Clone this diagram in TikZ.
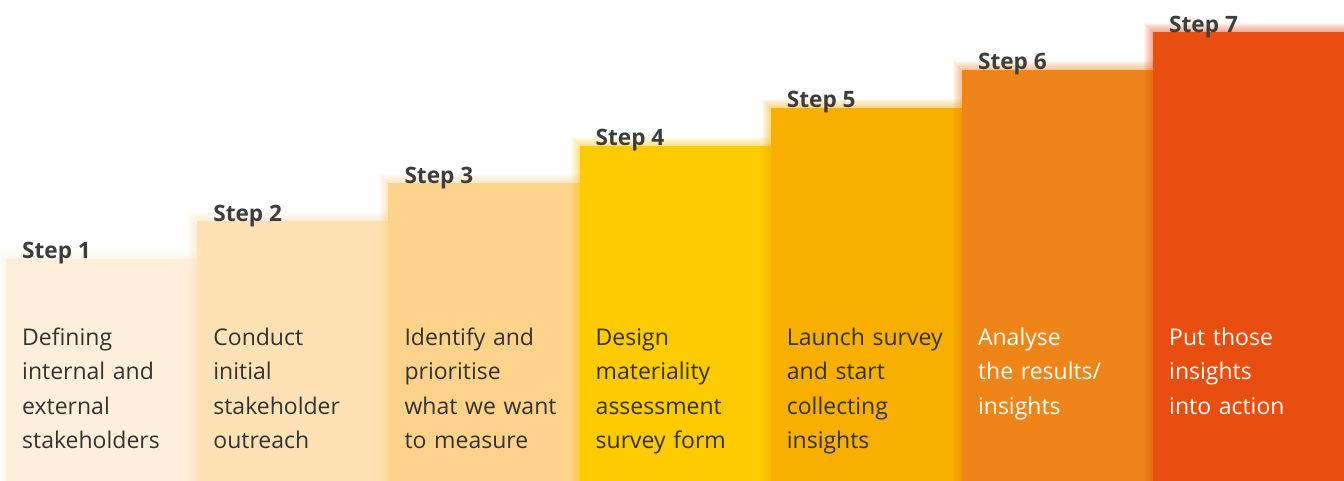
\documentclass[tikz,border=0pt]{standalone}
\usepackage{fontspec}
\setmainfont{Open Sans}

\definecolor{cA}{HTML}{FDEFDA}
\definecolor{cB}{HTML}{FEE2B6}
\definecolor{cC}{HTML}{FDD28A}
\definecolor{cD}{HTML}{FECA00}
\definecolor{cE}{HTML}{F8AF00}
\definecolor{cF}{HTML}{EF8519}
\definecolor{cG}{HTML}{E84E0F}
\definecolor{ink}{HTML}{333333}

\tikzset{
  column/.style={inner sep=0pt, outer sep=0pt, minimum width=191.2pt, anchor=south west},
  steplabel/.style={anchor=base west, inner sep=0pt, text=ink!95!white, font=\fontsize{22.6}{26}\selectfont\bfseries},
  body/.style={anchor=north west, inner sep=0pt, text width=175pt, align=left,
    font=\fontsize{23}{34.5}\selectfont, execute at begin node=\strut},
}

\begin{document}
\begin{tikzpicture}[x=1pt, y=1pt]
			\useasboundingbox (0,0) rectangle (1344,481);
			\fill[white] (0,0) rectangle (1344,481);

			\def\steps {1/cA, 2/cB, 3/cC, 4/cD, 5/cE, 6/cF, 7/cG}  % columns, left to right
			\foreach \i/\clr in \steps
			{	\pgfmathsetmacro\xl{6+191.17*(\i-1)}
				\pgfmathsetmacro\yt{222+37.8*(\i-1)}
				\foreach \k in {1,...,9}
				{	\fill[\clr, opacity=0.06] (\xl-\k, 0) rectangle (\xl+191.2, \yt+\k);}
				\node[column, fill=\clr, minimum height=\yt pt] (s\i) at (\xl, 0) {};
				\node[steplabel] (l\i) at ([xshift=16pt]s\i.north west) {Step \i};
			}

			\node[body, text=ink]   (t1) at ([xshift=16pt]s1.south west |- 0,160.2) {Defining\\internal and\\external\\stakeholders};
			\node[body, text=ink]   (t2) at ([xshift=16pt]s2.south west |- 0,160.2) {Conduct\\initial\\stakeholder\\outreach};
			\node[body, text=ink]   (t3) at ([xshift=16pt]s3.south west |- 0,160.2) {Identify and\\prioritise\\what we want\\to measure};
			\node[body, text=ink]   (t4) at ([xshift=16pt]s4.south west |- 0,160.2) {Design\\materiality\\assessment\\survey form};
			\node[body, text=ink]   (t5) at ([xshift=16pt]s5.south west |- 0,160.2) {Launch survey\\and start\\collecting\\insights};
			\node[body, text=white] (t6) at ([xshift=16pt]s6.south west |- 0,160.2) {Analyse\\the results/\\insights};
			\node[body, text=white] (t7) at ([xshift=16pt]s7.south west |- 0,160.2) {Put those\\insights\\into action};
		\end{tikzpicture}
\end{document}
